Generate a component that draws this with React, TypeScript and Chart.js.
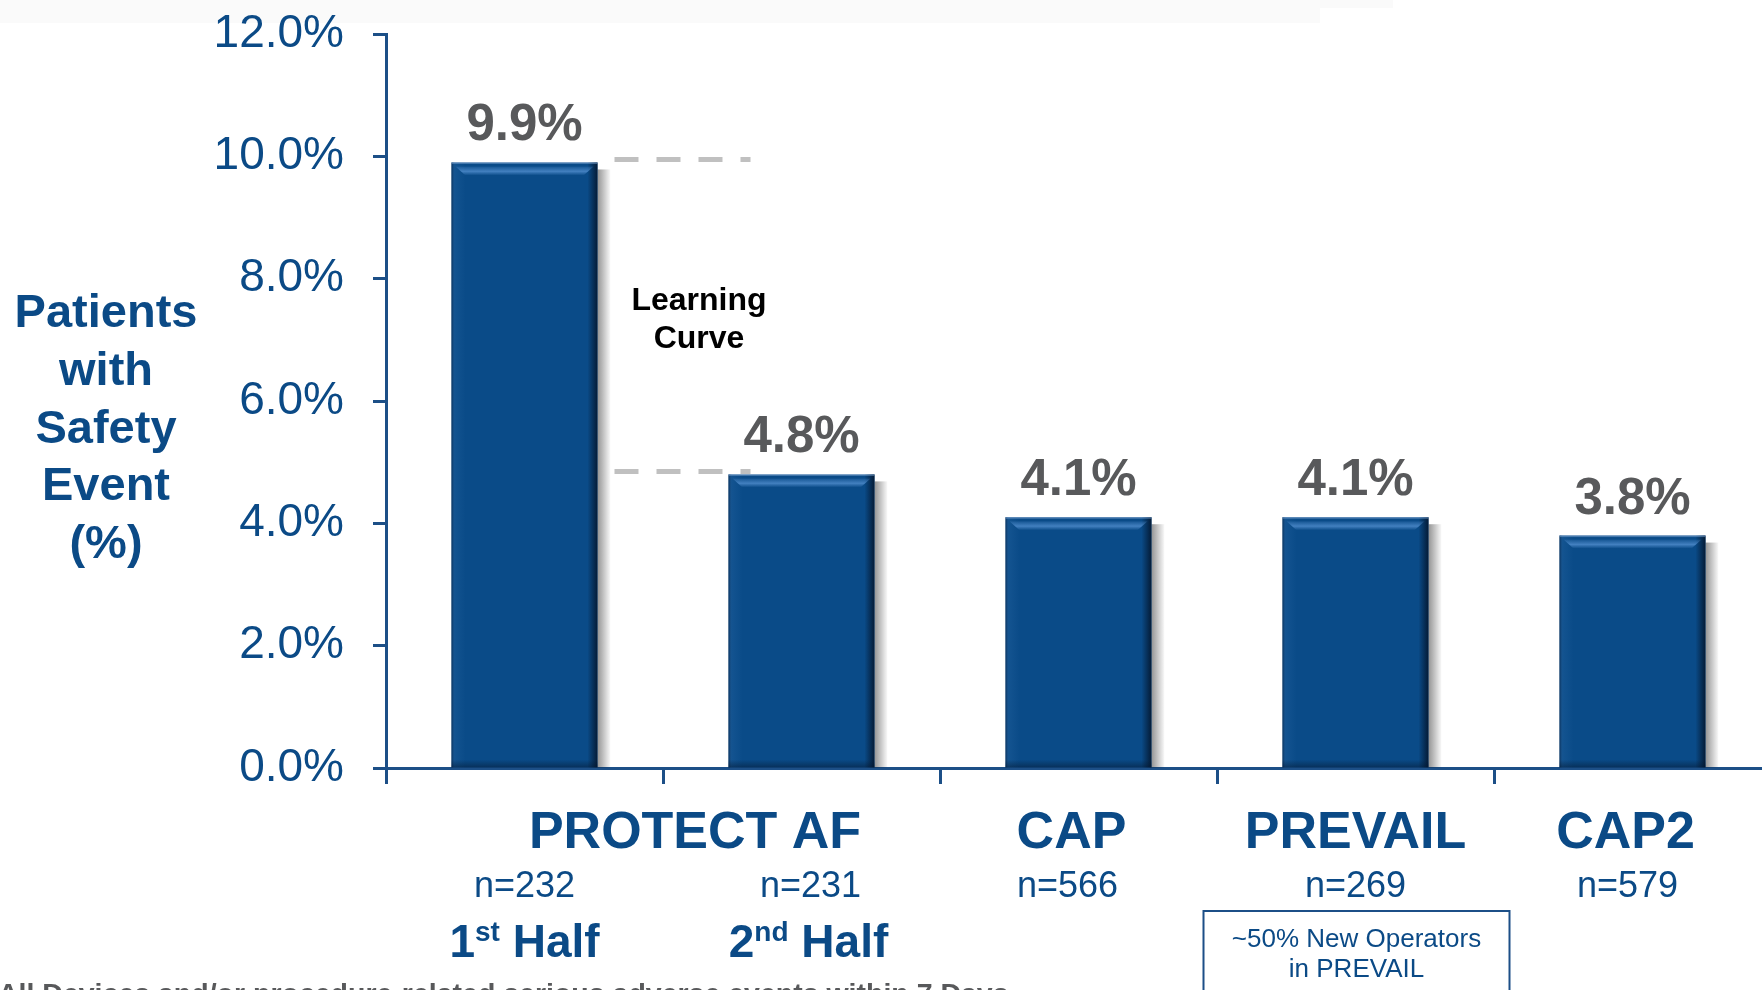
import { useEffect, useRef } from "react";
import { Chart, registerables } from "chart.js";

Chart.register(...registerables);

// Safety event rates per study cohort
const cohorts = ["PROTECT AF 1st Half", "PROTECT AF 2nd Half", "CAP", "PREVAIL", "CAP2"];
const eventRates = [9.9, 4.8, 4.1, 4.1, 3.8];
const sampleSizes = ["n=232", "n=231", "n=566", "n=269", "n=579"];

// Trial names shown under the axis and the bars they span
const trialNames = ["PROTECT AF", "CAP", "PREVAIL", "CAP2"];
const trialFirstBar = [0, 2, 3, 4];
const trialLastBar = [1, 2, 3, 4];

// Half-period captions under the PROTECT AF bars
const halfNumbers = ["1", "2"];
const halfSuffixes = ["st", "nd"];

const yTicks = [0, 2, 4, 6, 8, 10, 12];
const yTitleLines = ["Patients", "with", "Safety", "Event", "(%)"];
const curveLabel = ["Learning", "Curve"];
const operatorsNote = ["~50% New Operators", "in PREVAIL"];
const footnote = "All Devices and/or procedure-related serious adverse events within 7 Days";

const FONT = "'Liberation Sans', Arial, Helvetica, sans-serif";
const BLUE = "#0B4A86";
const AXIS = "#1C4F87";
const GREY_TEXT = "#58595B";
const BAR_FILL = "#0A4B88";

const W = 1771;
const H = 990;

const decorations = {
  id: "decorations",
  beforeDraw(chart: any) {
    const { ctx } = chart;
    ctx.save();
    ctx.fillStyle = "#ffffff";
    ctx.fillRect(0, 0, chart.width, chart.height);
    ctx.fillStyle = "#fafafa";
    ctx.fillRect(0, 0, 1320, 23);
    ctx.fillRect(1320, 0, 73, 8);
    ctx.restore();
  },
  beforeDatasetsDraw(chart: any) {
    const { ctx } = chart;
    const meta = chart.getDatasetMeta(0);
    ctx.save();
    meta.data.forEach((bar: any) => {
      const { x, y, width, base } = bar.getProps(["x", "y", "width", "base"], true);
      const r = x + width / 2;
      const g = ctx.createLinearGradient(r, 0, r + 13, 0);
      g.addColorStop(0, "rgba(0,0,0,0.42)");
      g.addColorStop(0.5, "rgba(0,0,0,0.22)");
      g.addColorStop(1, "rgba(0,0,0,0.02)");
      ctx.fillStyle = g;
      ctx.fillRect(r, y + 7, 13, base - y - 7);
    });
    ctx.restore();
  },
  afterDatasetsDraw(chart: any) {
    const { ctx } = chart;
    const yScale = chart.scales.y;
    const meta = chart.getDatasetMeta(0);
    ctx.save();
    meta.data.forEach((bar: any, i: number) => {
      const { x, y, width, base } = bar.getProps(["x", "y", "width", "base"], true);
      const l = x - width / 2;
      const r = x + width / 2;
      const h = base - y;

      // darker right edge
      let g = ctx.createLinearGradient(r - 10, 0, r, 0);
      g.addColorStop(0, "rgba(4,22,45,0)");
      g.addColorStop(1, "rgba(4,22,45,0.9)");
      ctx.fillStyle = g;
      ctx.fillRect(r - 10, y, 10, h);

      // left edge
      g = ctx.createLinearGradient(l, 0, l + 14, 0);
      g.addColorStop(0, "rgba(6,35,70,0.7)");
      g.addColorStop(0.25, "rgba(60,120,180,0.18)");
      g.addColorStop(1, "rgba(60,120,180,0)");
      ctx.fillStyle = g;
      ctx.fillRect(l, y, 14, h);

      // bottom edge
      g = ctx.createLinearGradient(0, base - 8, 0, base);
      g.addColorStop(0, "rgba(4,22,45,0)");
      g.addColorStop(1, "rgba(4,22,45,0.5)");
      ctx.fillStyle = g;
      ctx.fillRect(l, base - 8, width, 8);

      // top bevel highlight
      ctx.fillStyle = "rgba(120,160,205,0.55)";
      ctx.fillRect(l, y, width, 1.5);
      ctx.beginPath();
      ctx.moveTo(l + 4, y + 4);
      ctx.lineTo(r - 4, y + 4);
      ctx.lineTo(r - 14, y + 13);
      ctx.lineTo(l + 14, y + 13);
      ctx.closePath();
      g = ctx.createLinearGradient(0, y + 4, 0, y + 13);
      g.addColorStop(0, "rgba(90,150,215,0.15)");
      g.addColorStop(0.55, "rgba(90,150,215,0.7)");
      g.addColorStop(1, "rgba(90,150,215,0)");
      ctx.fillStyle = g;
      ctx.fill();

      // value label
      ctx.fillStyle = GREY_TEXT;
      ctx.font = `bold 51px ${FONT}`;
      ctx.textAlign = "center";
      ctx.textBaseline = "alphabetic";
      ctx.fillText(`${eventRates[i].toFixed(1)}%`, x, y - 22);
    });

    // dashed guides between the two PROTECT AF halves
    const b0 = meta.data[0].getProps(["x", "width"], true);
    const b1 = meta.data[1].getProps(["x", "width"], true);
    const x0 = b0.x + b0.width / 2 + 17;
    const x1 = b1.x - b1.width / 2 + 22;
    ctx.strokeStyle = "#C0C0C0";
    ctx.lineWidth = 5;
    ctx.setLineDash([24, 18]);
    [eventRates[0], eventRates[1]].forEach((v) => {
      const yy = yScale.getPixelForValue(v) - 3;
      ctx.beginPath();
      ctx.moveTo(x0, yy);
      ctx.lineTo(x1, yy);
      ctx.stroke();
    });
    ctx.setLineDash([]);
    ctx.restore();
  },
  afterDraw(chart: any) {
    const { ctx, chartArea } = chart;
    const xScale = chart.scales.x;
    const yScale = chart.scales.y;
    const bottom = chartArea.bottom;
    const meta = chart.getDatasetMeta(0);
    const barX = (i: number) => meta.data[i].getProps(["x"], true).x;

    ctx.save();
    ctx.textAlign = "center";
    ctx.textBaseline = "alphabetic";

    // y-axis title
    ctx.fillStyle = BLUE;
    ctx.font = `bold 47px ${FONT}`;
    yTitleLines.forEach((line, k) => ctx.fillText(line, 106, 327 + k * 57.8));

    // Learning Curve note
    ctx.fillStyle = "#000000";
    ctx.font = `bold 32px ${FONT}`;
    const lcX = (xScale.getPixelForValue(0) + xScale.getPixelForValue(1)) / 2 + 36;
    curveLabel.forEach((line, k) => ctx.fillText(line, lcX, yScale.getPixelForValue(7.48) + k * 38));

    // trial names
    const trialShift = [32, -7, 0, -7];
    ctx.fillStyle = BLUE;
    ctx.font = `bold 52px ${FONT}`;
    trialNames.forEach((name, k) => {
      const cx = (barX(trialFirstBar[k]) + barX(trialLastBar[k])) / 2 + trialShift[k];
      ctx.fillText(name, cx, bottom + 80);
    });

    // sample sizes
    const nShift = [0, 9, -11, 0, -5];
    ctx.font = `36px ${FONT}`;
    sampleSizes.forEach((s, i) => ctx.fillText(s, barX(i) + nShift[i], bottom + 129));

    // 1st / 2nd Half
    const halfShift = [0, 7];
    halfNumbers.forEach((num, i) => {
      const big = `bold 46px ${FONT}`;
      const small = `bold 28px ${FONT}`;
      ctx.font = big;
      const wNum = ctx.measureText(num).width;
      const wRest = ctx.measureText(" Half").width;
      ctx.font = small;
      const wSup = ctx.measureText(halfSuffixes[i]).width;
      const total = wNum + wSup + wRest;
      let xx = barX(i) + halfShift[i] - total / 2;
      const base = bottom + 189;
      ctx.textAlign = "left";
      ctx.font = big;
      ctx.fillText(num, xx, base);
      xx += wNum;
      ctx.font = small;
      ctx.fillText(halfSuffixes[i], xx, base - 16);
      xx += wSup;
      ctx.font = big;
      ctx.fillText(" Half", xx, base);
      ctx.textAlign = "center";
    });

    // PREVAIL operators box
    const bx = barX(3) + 1;
    ctx.strokeStyle = AXIS;
    ctx.lineWidth = 2;
    ctx.strokeRect(bx - 153, bottom + 143, 306, 120);
    ctx.fillStyle = BLUE;
    ctx.font = `26px ${FONT}`;
    operatorsNote.forEach((line, k) => ctx.fillText(line, bx, bottom + 179 + k * 30));

    // footnote (runs off the lower edge)
    ctx.textAlign = "left";
    ctx.fillStyle = GREY_TEXT;
    ctx.font = `bold 28.5px ${FONT}`;
    ctx.fillText(footnote, -2, 1003);
    ctx.restore();
  },
};

export default function App() {
  const canvasRef = useRef<HTMLCanvasElement | null>(null);

  useEffect(() => {
    const canvas = canvasRef.current;
    if (!canvas) return;
    const chart = new Chart(canvas, {
      type: "bar",
      data: {
        labels: cohorts,
        datasets: [
          {
            data: eventRates,
            backgroundColor: BAR_FILL,
            borderWidth: 0,
            barPercentage: 0.527,
            categoryPercentage: 1,
          },
        ],
      },
      options: {
        responsive: false,
        animation: false,
        devicePixelRatio: 1,
        layout: { padding: { top: 34, right: 0, bottom: 0, left: 0 } },
        plugins: {
          legend: { display: false },
          tooltip: { enabled: false },
        },
        scales: {
          x: {
            offset: true,
            grid: {
              offset: true,
              drawOnChartArea: false,
              drawTicks: true,
              tickLength: 16,
              tickWidth: 3,
              tickColor: AXIS,
            },
            border: { color: AXIS, width: 3 },
            ticks: { display: false },
            afterFit(scale: any) {
              scale.height = H - 768;
              scale.paddingLeft = 0;
              scale.paddingRight = 0;
            },
          },
          y: {
            min: 0,
            max: 12,
            afterBuildTicks(scale: any) {
              scale.ticks = yTicks.map((v) => ({ value: v }));
            },
            ticks: {
              callback: (v: any) => `${Number(v).toFixed(1)}%`,
              font: { family: FONT, size: 46 },
              color: BLUE,
              padding: 29,
            },
            grid: {
              drawOnChartArea: false,
              tickLength: 13,
              tickWidth: 3,
              tickColor: AXIS,
            },
            border: { color: AXIS, width: 3 },
            afterFit(scale: any) {
              scale.width = 386;
              scale.paddingTop = 0;
              scale.paddingBottom = 0;
            },
          },
        },
      },
      plugins: [decorations],
    });
    return () => chart.destroy();
  }, []);

  return (
    <div
      style={{
        position: "fixed",
        left: 0,
        top: 0,
        width: 1762,
        height: H,
        overflow: "hidden",
        background: "#ffffff",
      }}
    >
      <canvas ref={canvasRef} width={W} height={H} style={{ display: "block" }} />
    </div>
  );
}
